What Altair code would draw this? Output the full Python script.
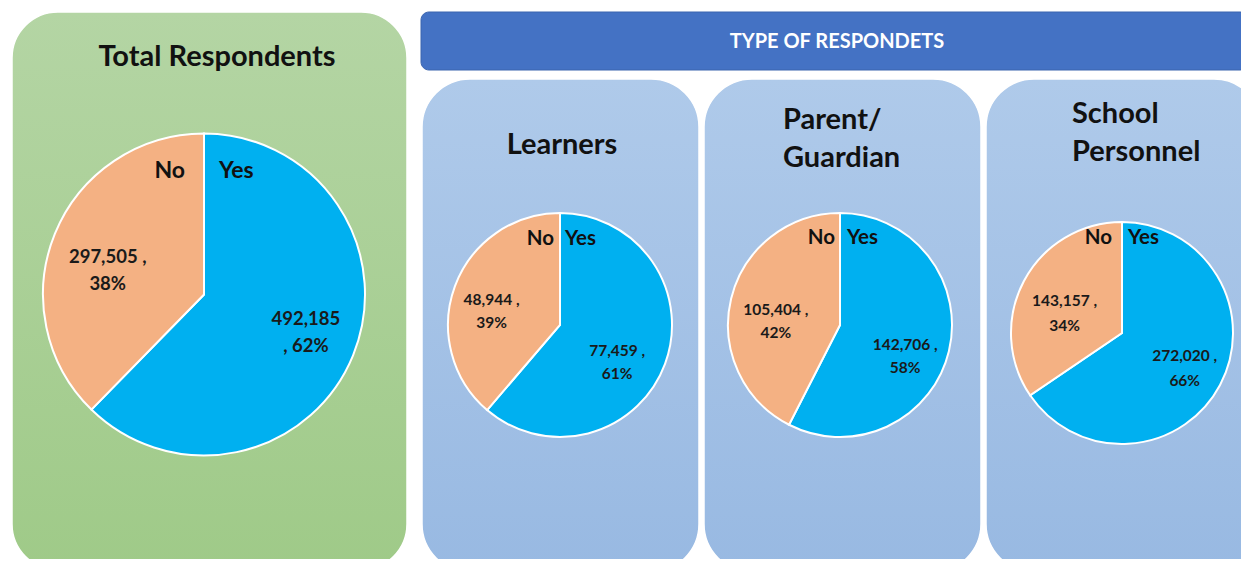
import altair as alt
import pandas as pd

# ---------------- data ----------------
groups = ["Total Respondents", "Learners", "Parent/Guardian", "School Personnel"]
answers = ["Yes", "No"]
yes_values = [492185, 77459, 142706, 272020]
no_values = [297505, 48944, 105404, 143157]
yes_labels = ["492,185\n, 62%", "77,459 ,\n61%", "142,706 ,\n58%", "272,020 ,\n66%"]
no_labels = ["297,505 ,\n38%", "48,944 ,\n39%", "105,404 ,\n42%", "143,157 ,\n34%"]
panel_titles = [["Total Respondents"], ["Learners"], ["Parent/", "Guardian"], ["School", "Personnel"]]
header_text = "TYPE OF RESPONDETS"

rows = []
for g, yv, nv, yl, nl in zip(groups, yes_values, no_values, yes_labels, no_labels):
    rows.append({"group": g, "answer": "Yes", "value": yv, "label": yl})
    rows.append({"group": g, "answer": "No", "value": nv, "label": nl})
df = pd.DataFrame(rows)

# ---------------- layout (reference pixel coords) ----------------
OX, OY = 8, 8
W, H = 1233, 551
FONT = "Lato"
YES_C, NO_C = "#00b0f0", "#f4b183"

pies = [
    dict(cx=204, cy=294.5, R=161, ndy=-124, gno=19, gyes=15, nfs=23, vfs=18.5, lh=27),
    dict(cx=560, cy=325, R=112, ndy=-86, gno=6, gyes=5, nfs=20.5, vfs=15.5, lh=23),
    dict(cx=840, cy=325, R=112, ndy=-87, gno=5, gyes=7, nfs=20.5, vfs=15.5, lh=23),
    dict(cx=1122, cy=333, R=111, ndy=-95, gno=10, gyes=6, nfs=20.5, vfs=15.5, lh=25),
]
# value-label placement along the slice mid-angle: (radius px, extra dy px)
label_place = [
    {"Yes": (110, -17), "No": (104, 2)},
    {"Yes": (61, 5), "No": (73, 0)},
    {"Yes": (67, 4), "No": (66, 0)},
    {"Yes": (71, -10), "No": (65, -2)},
]
title_pos = [
    dict(x=217, y=[57], align="center"),
    dict(x=562, y=[145], align="center"),
    dict(x=783, y=[120, 158], align="left"),
    dict(x=1072, y=[114, 152], align="left"),
]

one = pd.DataFrame({"k": [0]})


def px(x):
    return alt.value(x - OX)


def py(y):
    return alt.value(y - OY)


def grad(c1, c2):
    return alt.LinearGradient(gradient="linear", x1=0, x2=0, y1=0, y2=1,
                              stops=[alt.GradientStop(color=c1, offset=0),
                                     alt.GradientStop(color=c2, offset=1)])


def panel(x1, x2, y1, y2, fill, r, stroke="white", sw=1.5):
    return alt.Chart(one).mark_rect(cornerRadius=r, color=fill, stroke=stroke, strokeWidth=sw).encode(
        x=px(x1), x2=px(x2), y=py(y1), y2=py(y2))


layers = []
layers.append(panel(12, 407, 12, 570, grad("#b4d5a4", "#9fca88"), 46))
layers.append(panel(421, 1248, 12, 70, "#4472c4", 8, stroke="#3b64ae", sw=1))
for x1, x2 in [(422, 699), (704, 981), (986, 1262)]:
    layers.append(panel(x1, x2, 79, 572, grad("#afcaea", "#98b9e2"), 48))

layers.append(alt.Chart(one).mark_text(font=FONT, fontSize=20, fontWeight="bold", color="white",
                                       baseline="middle", align="center").encode(
    x=px(837), y=py(42), text=alt.value(header_text)))

for lines, tp in zip(panel_titles, title_pos):
    for line, yy in zip(lines, tp["y"]):
        layers.append(alt.Chart(one).mark_text(font=FONT, fontSize=29, fontWeight="bold", color="#111111",
                                               baseline="middle", align=tp["align"]).encode(
            x=px(tp["x"]), y=py(yy), text=alt.value(line)))

color_scale = alt.Scale(domain=answers, range=[YES_C, NO_C])
theta_scale = alt.Scale(domain=[0, 1])

for g, p, lp in zip(groups, pies, label_place):
    base = (alt.Chart(df)
            .transform_filter(alt.datum.group == g)
            .transform_joinaggregate(total="sum(value)")
            .transform_calculate(frac="datum.value / datum.total",
                                 ord="datum.answer == 'Yes' ? 0 : 1"))
    layers.append(base.mark_arc(radius=p["R"], stroke="white", strokeWidth=2).encode(
        theta=alt.Theta("frac:Q", stack=True, scale=theta_scale),
        color=alt.Color("answer:N", scale=color_scale, legend=None),
        order=alt.Order("ord:Q"),
        x=px(p["cx"]), y=py(p["cy"])))
    mids = (base
            .transform_window(cum="sum(frac)", sort=[alt.SortField("ord", order="ascending")],
                              frame=[None, 0])
            .transform_calculate(mid="datum.cum - datum.frac / 2"))
    for ans in answers:
        r, ddy = lp[ans]
        layers.append(mids.transform_filter(alt.datum.answer == ans).mark_text(
            radius=r, dy=ddy, font=FONT, fontSize=p["vfs"], fontWeight="bold",
            color="#1a1a1a", lineBreak="\n", lineHeight=p["lh"],
            baseline="middle", align="center").encode(
            theta=alt.Theta("mid:Q", stack=None, scale=theta_scale),
            text="label:N",
            x=px(p["cx"]), y=py(p["cy"])))
    layers.append(base.transform_filter(alt.datum.answer == "No").mark_text(
        font=FONT, fontSize=p["nfs"], fontWeight="bold", color="#111111",
        align="right", baseline="middle").encode(
        text="answer:N", x=px(p["cx"] - p["gno"]), y=py(p["cy"] + p["ndy"])))
    layers.append(base.transform_filter(alt.datum.answer == "Yes").mark_text(
        font=FONT, fontSize=p["nfs"], fontWeight="bold", color="#111111",
        align="left", baseline="middle").encode(
        text="answer:N", x=px(p["cx"] + p["gyes"]), y=py(p["cy"] + p["ndy"])))

chart = alt.layer(*layers).properties(
    width=W, height=H, padding=0, autosize=alt.AutoSizeParams(type="none"), background="white"
).configure_view(stroke=None)

chart.save("out.html", embed_options={"renderer": "svg", "actions": False})
